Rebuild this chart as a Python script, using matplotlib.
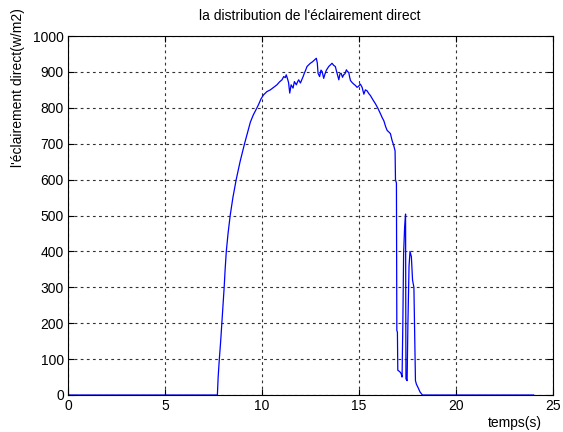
import matplotlib
matplotlib.use("Agg")
import matplotlib.pyplot as plt

# Direct irradiance over the day (time in s, irradiance in W/m2)
temps = [0.0, 7.70, 7.74, 7.80, 7.87, 7.93, 7.99, 8.05, 8.10, 8.16, 8.25, 8.36,
         8.50, 8.67, 8.87, 9.10, 9.25, 9.40, 9.55, 9.74, 9.83, 9.95, 10.08,
         10.25, 10.43, 10.60, 10.77, 10.90, 11.03, 11.12, 11.20, 11.25, 11.32,
         11.37, 11.43, 11.50, 11.60, 11.67, 11.77, 11.83, 11.89, 11.98, 12.12,
         12.18, 12.25, 12.32, 12.49, 12.60, 12.70, 12.80, 12.85, 12.89, 12.97,
         13.04, 13.10, 13.18, 13.25, 13.32, 13.44, 13.61, 13.70, 13.78, 13.85,
         13.96, 14.02, 14.08, 14.15, 14.21, 14.28, 14.35, 14.42, 14.47, 14.52,
         14.56, 14.65, 14.73, 14.82, 14.90, 14.98, 15.07, 15.16, 15.25, 15.33,
         15.42, 15.50, 15.59, 15.72, 15.85, 15.98, 16.11, 16.20, 16.28, 16.37,
         16.45, 16.55, 16.62, 16.70, 16.79, 16.86, 16.88, 16.93, 16.95, 16.98,
         17.00, 17.10, 17.17, 17.22, 17.26, 17.30, 17.35, 17.40, 17.42, 17.48,
         17.52, 17.58, 17.63, 17.70, 17.76, 17.83, 17.91, 17.96, 18.05, 18.15,
         18.27, 24.0]
eclairement = [0, 0, 50, 100, 150, 200, 250, 300, 350, 400, 450, 500,
               550, 600, 650, 700, 730, 760, 780, 800, 810, 825, 836,
               845, 850, 857, 864, 872, 878, 887, 884, 892, 880,
               870, 841, 864, 855, 873, 864, 872, 878, 869, 887,
               896, 905, 915, 924, 928, 933, 938, 925, 896, 887,
               905, 901, 882, 895, 905, 915, 924, 918, 915, 900,
               878, 895, 896, 885, 892, 895, 906, 900, 899, 885,
               876, 870, 866, 862, 857, 860, 866, 857, 838, 850,
               847, 840, 834, 822, 811, 798, 783, 772, 764, 748,
               737, 732, 728, 710, 695, 680, 600, 590, 180, 175,
               69, 65, 60, 50, 200, 395, 465, 504, 45, 40,
               195, 360, 400, 385, 320, 300, 40, 30, 20, 8,
               0, 0]

x_ticks = [0, 5, 10, 15, 20, 25]
y_ticks = [0, 100, 200, 300, 400, 500, 600, 700, 800, 900, 1000]

plt.rcParams['font.family'] = ['Liberation Sans', 'DejaVu Sans']
plt.rcParams['font.size'] = 10

W, H = 563, 432
fig = plt.figure(figsize=(W / 100, H / 100), dpi=100, facecolor='white')
ax = fig.add_axes([68 / W, 1 - 395 / H, (553 - 68) / W, (395 - 36) / H])

ax.plot(temps, eclairement, color=(0, 0, 1), lw=0.9)

ax.set_xlim(0, 25)
ax.set_ylim(0, 1000)
ax.set_xticks(x_ticks)
ax.set_yticks(y_ticks)
ax.tick_params(direction='in', length=4, width=0.8, top=True, right=True,
               labelsize=10, pad=3, colors='black')
ax.grid(True, color='#333333', linestyle=(0, (2.5, 3)), linewidth=0.8)
for s in ax.spines.values():
    s.set_linewidth(0.8)
    s.set_color('black')

fig.text(310 / W, 1 - 16 / H, "la distribution de l'éclairement direct",
         ha='center', va='center', fontsize=10)
fig.text(18 / W, 1 - 88 / H, "l'éclairement direct(w/m2)", rotation=90,
         ha='center', va='center', fontsize=10)
fig.text(515 / W, 1 - 423 / H, "temps(s)", ha='center', va='center', fontsize=10)

fig.savefig("out.png", dpi=100, facecolor='white')
